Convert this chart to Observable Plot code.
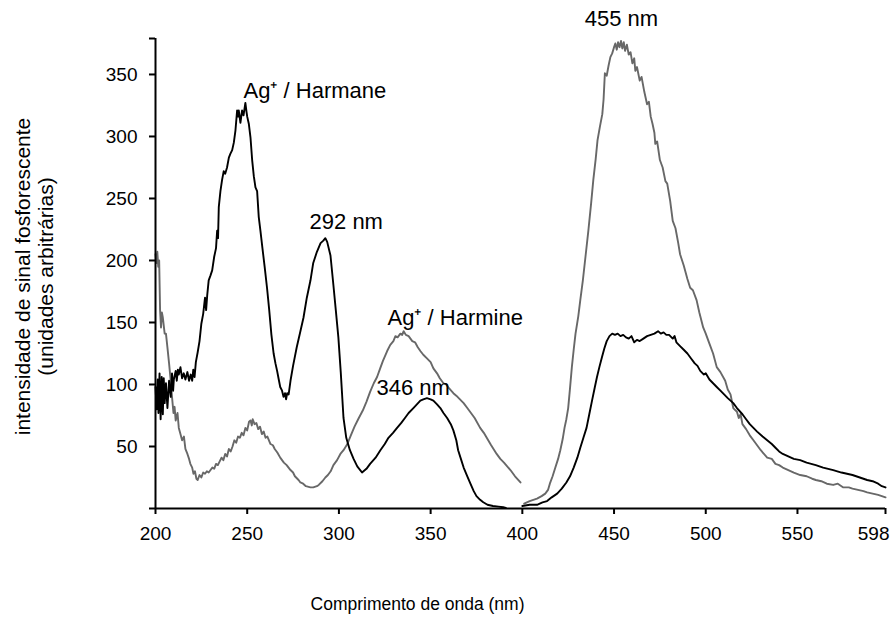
<!DOCTYPE html>
<html>
<head>
<meta charset="utf-8">
<script src="https://cdn.jsdelivr.net/npm/d3@7"></script>
<script src="https://cdn.jsdelivr.net/npm/@observablehq/plot@0.6"></script>
<style>
  html, body { margin: 0; padding: 0; background: #fff; }
  #chart svg { display: block; }
</style>
</head>
<body>
<div id="chart"></div>
<script>
// ---- Data (wavelength nm, intensity a.u.) ----
const harmaneSeg1 = [[200,98],[200.6,80],[201.2,104],[201.6,77],[202.2,109],[202.8,72],[203.4,106],[204,76],[204.5,105],[205,85],[205.7,101],[206.5,81],[207.4,103],[208.3,90],[209,109],[209.6,95],[210,104],[211,111],[211.6,103],[212.2,112],[212.7,108],[213.6,114],[214.5,105],[215.4,109],[216.3,104],[217.4,110],[218.3,103],[219.2,108],[220,103],[220.6,112],[221.3,106],[222,118],[223,126],[224,135],[225,149],[226,157],[227,170],[227.6,160],[228.2,172],[229,184],[230,188],[230.9,192],[232,203],[233,210],[233.6,224],[234.1,218],[234.5,243],[235.4,256],[236.3,265],[237.2,272],[238,270],[239,275],[240,283],[240.8,286],[241.8,289],[242.7,295],[243.6,305],[244.5,321],[245,316],[245.4,321],[246.3,311],[247.2,321],[248,317],[249,327],[249.6,320],[250,316],[250.9,310],[251.8,299],[252.7,281],[253.6,268],[254.5,259],[255.4,256],[256.3,235],[257.2,224],[258.3,210],[259.5,195],[260.8,178],[262,160],[263.2,140],[264.4,125],[265.4,117],[266.3,111],[267.2,104],[268,98],[269,95],[269.8,90],[270.6,93],[271.2,88],[271.8,93],[272.6,92],[273.6,103],[275,115],[277,130],[279,143],[280.7,154],[282.5,170],[284.5,184],[286,198],[288,207],[290,214],[291.5,216],[292.6,218],[293.6,215],[295.4,204],[297,180],[298.3,160],[299.7,138],[301,110],[302.5,73],[304,57],[306,47],[308,40],[310,34],[312.6,29],[315,32],[317,36],[320,41],[322.6,47],[325,52],[327,57],[329.5,61],[331.7,65],[334,69],[336,73],[338,77],[340.6,81],[342.5,84],[344.4,87],[346,88],[348,89],[350,88],[351.5,87],[353.5,84],[355.3,81],[357,77],[359,73],[361,68],[362.4,63],[364,55],[365,47],[366.5,40],[368,33],[370,26],[371.7,20],[373.5,14],[375,10],[377,7],[378.7,5],[381,3],[384,2],[387,1.5],[389.6,1],[391,0.5]];

const harmaneSeg2 = [[400,2],[404,3],[408,3],[411,5],[413.5,6],[416,9],[419,12],[421.5,16],[424,21],[426,26],[428,33],[430,41],[431.6,49],[433.3,57],[435,65],[436.5,76],[438,87],[439.4,97],[440.7,106],[442,114],[443.4,122],[444.7,129],[446,135],[447.5,139],[449,141],[450.5,140],[452,141],[453.5,139],[455,140],[456.5,138],[458,137],[459.5,139],[461,134],[462.5,136],[464,135],[466,137],[468,139],[470,140],[472,141],[474,143],[475.5,141],[477,142],[478.5,140],[480,140],[482,137],[483,139],[484,134],[486,131],[488,128],[490,125],[492,121],[494,117],[495.5,115],[497,111],[499,108],[500,109],[502,104],[504,101],[506,98],[508,95],[510,92],[512,89],[515,85],[517,81],[520,76],[522,72],[524,68],[526,65],[528,62],[531,58],[533.5,55],[536,52],[538,49],[540,46],[542,44],[545,42],[548,40],[551.5,39],[555,37],[560,35],[564,33],[569.5,31],[574,29],[580,27],[584,25],[588,23],[591,22],[594,20],[596,18],[598,17]];

const harmineSeg1 = [[200,205],[200.5,198],[201,207],[201.5,195],[202,200],[202.5,160],[203,146],[203.5,158],[204,154],[205,141],[205.7,141],[206.5,130],[207.4,117],[208.3,103],[209,90],[209.8,77],[210.4,82],[211,71],[212,77],[212.7,65],[213.6,60],[214.5,55],[215.5,58],[216.3,48],[217.4,44],[218.3,40],[219,36],[220,33],[220.7,28],[221.5,30],[222.3,24],[223,23],[224,27],[225,25],[226,29],[227,28],[228,30],[229,29],[230,31],[231,33],[232,32],[233,36],[234,35],[235,38],[236,41],[237,39],[238,44],[239,42],[240,48],[241,46],[242,50],[243,55],[244,53],[245,58],[246,57],[247,61],[248,59],[249,65],[250,63],[251,70],[251.8,71],[252.5,67],[253,72],[254,68],[255,69],[256,64],[257,66],[258,60],[259,62],[260,57],[261,58],[262.7,52],[264,51],[265,48],[266.5,45],[268,41],[270,37],[271.5,35],[273.6,31],[275,29],[276,26],[278,23],[279,21],[280.5,20],[282,18],[284.5,17],[286,17],[288,18],[289,19],[291,22],[292.6,25],[294,27],[295.5,30],[297,35],[299,39],[300.8,44],[302.5,47],[304.6,52],[306.5,59],[308.5,66],[310.5,72],[313,79],[315,86],[317,94],[319,101],[320.8,106],[322.5,113],[324,119],[326.3,127],[328,132],[329.7,135],[330.8,139],[332,138],[333.5,141],[334.5,140],[335.3,143],[336.5,140],[338,139],[340,135],[341.5,134],[343,130],[344.4,127],[346,124],[348,121],[350,118],[351.5,113],[353.5,109],[355,105],[357,101],[358.5,100],[360,97],[362.4,93],[364,91],[366,88],[368,85],[370,81],[372,77],[374,73],[377,65],[379,61],[381,56],[383,51],[386,44],[388,40],[390,37],[393.5,31],[396,26],[399,21]];

const harmineSeg2 = [[401,4],[404,6],[408,8],[410.5,10],[412.5,12],[414,15],[415,20],[416.5,26],[418,33],[419.5,40],[420.7,47],[422,56],[423,65],[424,72],[425,81],[426,97],[427,114],[428,128],[429,141],[430.5,155],[431.6,168],[433,184],[434.5,204],[436,224],[437.5,246],[438.7,265],[440,282],[441,297],[442.3,308],[443.6,318],[444.3,330],[445,351],[446,349],[447,357],[448,364],[449,367],[450,372],[450.7,375],[451.5,370],[452.2,376],[453,372],[453.8,377],[454.5,371],[455.3,376],[456,369],[457,374],[458,366],[459,368],[460,359],[461,363],[461.6,353],[462.5,356],[464,345],[465,348],[466.5,336],[468,326],[469,328],[470,316],[471,310],[472,303],[472.5,294],[473.5,296],[475,281],[476.5,275],[478,264],[479,262],[480.6,248],[482,232],[483.5,226],[485,214],[486,205],[488,196],[490,185],[491.5,178],[493,176],[495,168],[496.5,158],[498.6,146],[500,141],[502,133],[504,125],[506,114],[508,110],[510.6,103],[512,96],[513.5,92],[515,81],[517,78],[518,73],[519,76],[520,68],[522,64],[524,59],[526,55],[528,51],[530,47],[533.5,41],[536,40],[538,36],[540,35],[542,33],[545,31],[548,29],[551.5,27],[555,26],[558,24],[560,23],[563,22],[566,20],[569.5,19],[572,20],[575,17],[578,17],[580,16],[583,15],[586,14],[588,13],[591,12],[594,11],[596,10],[598,9]];

const xTicks = [200, 250, 300, 350, 400, 450, 500, 550, 598];
const xLabelled = [200, 250, 300, 350, 400, 450, 500, 550];
const xLastLabel = [598];
const yTicks = [0, 50, 100, 150, 200, 250, 300, 350, 379];
const yLabelled = [50, 100, 150, 200, 250, 300, 350];

const annotations = [
  {x: 248, y: 337, text: "Ag\u207A / Harmane"},
  {x: 284, y: 231, text: "292 nm"},
  {x: 326.5, y: 154, text: "Ag\u207A / Harmine"},
  {x: 320.5, y: 97, text: "346 nm"},
  {x: 434, y: 395, text: "455 nm"}
];

const xTitle = "Comprimento de onda (nm)";
const yTitle = "intensidade de sinal fosforescente\n(unidades arbitrárias)";

// ---- Build table ----
function toRows(seg, series, key) {
  return seg.map(([x, y]) => ({x, y, series, key}));
}
const rows = [
  ...toRows(harmaneSeg1, "Harmane", "h1"),
  ...toRows(harmaneSeg2, "Harmane", "h2"),
  ...toRows(harmineSeg1, "Harmine", "m1"),
  ...toRows(harmineSeg2, "Harmine", "m2")
];

const FONT = "'Liberation Sans', Arial, Helvetica, sans-serif";

const chart = Plot.plot({
  width: 893,
  height: 623,
  marginLeft: 155,
  marginRight: 8,
  marginTop: 38,
  marginBottom: 115,
  style: {fontFamily: FONT, fontSize: "19px", color: "#000", background: "#fff"},
  x: {domain: [200, 598]},
  y: {domain: [0, 379]},
  marks: [
    Plot.line(rows.filter(d => d.series === "Harmine"), {x: "x", y: "y", z: "key", stroke: "#686868", strokeWidth: 1.9}),
    Plot.line(rows.filter(d => d.series === "Harmane"), {x: "x", y: "y", z: "key", stroke: "#000", strokeWidth: 1.9}),
    Plot.ruleY([0], {stroke: "#000", strokeWidth: 2}),
    Plot.ruleX([200], {y1: 0, y2: 379, stroke: "#000", strokeWidth: 2}),
    Plot.axisX({ticks: xTicks, tickSize: 6, tickPadding: 12, strokeWidth: 2, label: null, tickFormat: d => xLabelled.includes(d) ? String(d) : "", fontSize: 19}),
    Plot.text(xLastLabel, {x: d => d, frameAnchor: "bottom", dy: 18, dx: 4, textAnchor: "end", lineAnchor: "top", text: d => String(d), fontSize: 19, fill: "#000", clip: false}),
    Plot.axisY({ticks: yTicks, tickSize: 6, tickPadding: 12, strokeWidth: 2, label: null, tickFormat: d => yLabelled.includes(d) ? String(d) : "", fontSize: 19}),
    Plot.text(annotations, {x: "x", y: "y", text: "text", textAnchor: "start", fill: "#000", fontSize: 22, clip: false}),
    Plot.text([xTitle], {frameAnchor: "bottom", dx: -103, dy: 101, textAnchor: "middle", text: d => d, fontSize: 17.5, fill: "#000"}),
    Plot.text([yTitle], {frameAnchor: "left", dx: -121.5, dy: 3, rotate: -90, textAnchor: "middle", lineAnchor: "middle", text: d => d, fontSize: 21, fill: "#000", lineHeight: 1.1})
  ]
});
document.getElementById("chart").appendChild(chart);
</script>
</body>
</html>
